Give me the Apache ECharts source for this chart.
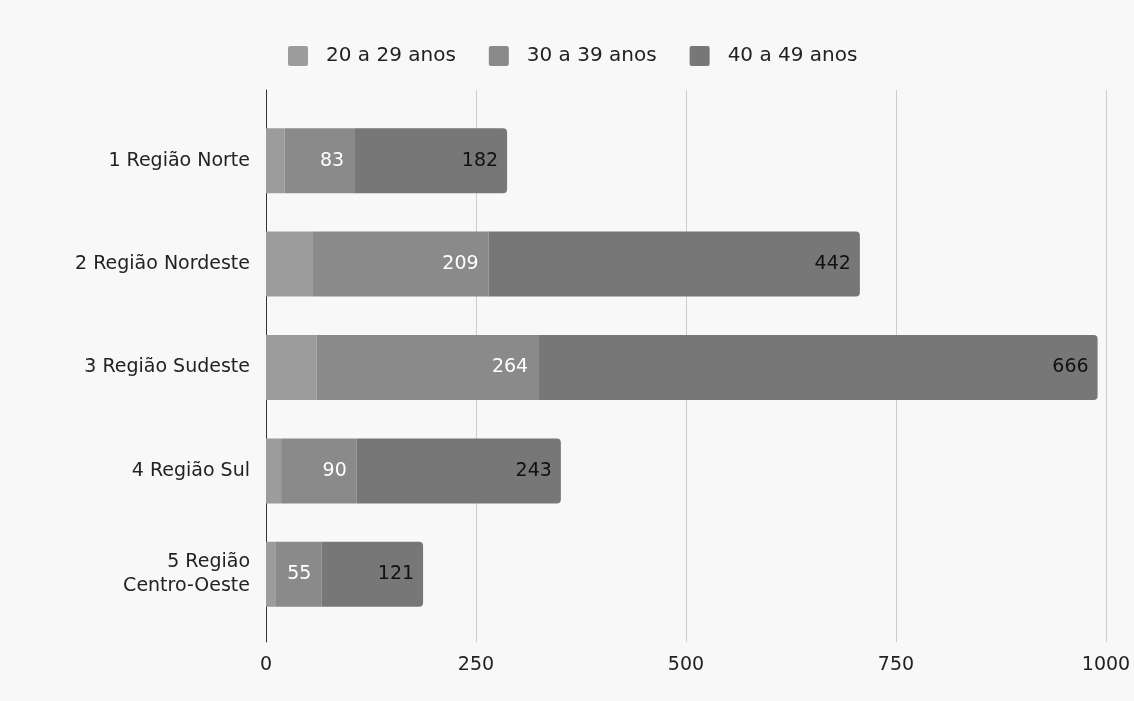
<!DOCTYPE html>
<html>
<head>
<meta charset="utf-8">
<script src="https://cdn.jsdelivr.net/npm/echarts@6/dist/echarts.min.js"></script>
<style>
  html, body { margin: 0; padding: 0; background: #f8f8f8; }
  #chart { width: 1134px; height: 701px; }
</style>
</head>
<body>
<div id="chart"></div>
<script>
// Regions of Brazil, counts by age group (stacked)
const categories = ['1 Região Norte', '2 Região Nordeste', '3 Região Sudeste', '4 Região Sul', '5 Região\nCentro-Oeste'];
const age20to29 = [22, 56, 60, 18, 11];
const age30to39 = [83, 209, 264, 90, 55];
const age40to49 = [182, 442, 666, 243, 121];
const seriesNames = ['20 a 29 anos', '30 a 39 anos', '40 a 49 anos'];
const xTicks = { min: 0, max: 1000, interval: 250 };

const FONT = 'DejaVu Sans';
const colors = ['#9c9c9c', '#8a8a8a', '#777777'];

const chart = echarts.init(document.getElementById('chart'));

const option = {
  backgroundColor: '#f8f8f8',
  animation: false,
  color: colors,
  legend: {
    data: seriesNames,
    left: 283,
    top: 41,
    icon: 'path://M2,0 L18,0 Q20,0 20,2 L20,18 Q20,20 18,20 L2,20 Q0,20 0,18 L0,2 Q0,0 2,0 Z',
    itemWidth: 20,
    itemHeight: 20,
    itemGap: 33,
    textStyle: { fontFamily: FONT, fontSize: 20, color: '#222', padding: [0, 0, 0, 13] }
  },
  grid: [
    // bars
    { left: 266, width: 840, top: 109, height: 517 },
    // frame: vertical gridlines, zero axis and tick labels
    { left: 266, width: 840, top: 90, height: 552 }
  ],
  xAxis: [
    { gridIndex: 0, type: 'value', min: xTicks.min, max: xTicks.max, interval: xTicks.interval, show: false },
    {
      gridIndex: 1, type: 'value', min: xTicks.min, max: xTicks.max, interval: xTicks.interval,
      axisLine: { show: false }, axisTick: { show: false },
      axisLabel: { fontFamily: FONT, fontSize: 19, color: '#222', margin: 14, formatter: v => String(v) },
      splitLine: { show: true, showMinLine: false, lineStyle: { color: '#cccccc', width: 1 } }
    }
  ],
  yAxis: [
    {
      gridIndex: 0, type: 'category', data: categories, inverse: true,
      axisLine: { show: false }, axisTick: { show: false }, splitLine: { show: false },
      axisLabel: { fontFamily: FONT, fontSize: 19, color: '#222', margin: 16, lineHeight: 24, align: 'right' }
    },
    {
      gridIndex: 1, type: 'value', min: 0, max: 1,
      axisLine: { show: true, onZero: true, lineStyle: { color: '#333', width: 1 } },
      axisTick: { show: false }, axisLabel: { show: false }, splitLine: { show: false }
    }
  ],
  series: [
    {
      name: seriesNames[0], type: 'bar', stack: 'total', xAxisIndex: 0, yAxisIndex: 0,
      data: age20to29, barWidth: 65, itemStyle: { color: colors[0] },
      label: { show: false }
    },
    {
      name: seriesNames[1], type: 'bar', stack: 'total', xAxisIndex: 0, yAxisIndex: 0,
      data: age30to39, barWidth: 65, itemStyle: { color: colors[1] },
      label: { show: true, position: 'insideRight', distance: 10, color: '#ffffff', fontFamily: FONT, fontSize: 19 }
    },
    {
      name: seriesNames[2], type: 'bar', stack: 'total', xAxisIndex: 0, yAxisIndex: 0,
      data: age40to49, barWidth: 65, itemStyle: { color: colors[2], borderRadius: [0, 4, 4, 0] },
      label: { show: true, position: 'insideRight', distance: 9, color: '#111111', fontFamily: FONT, fontSize: 19 }
    }
  ]
};

chart.setOption(option);
</script>
</body>
</html>
